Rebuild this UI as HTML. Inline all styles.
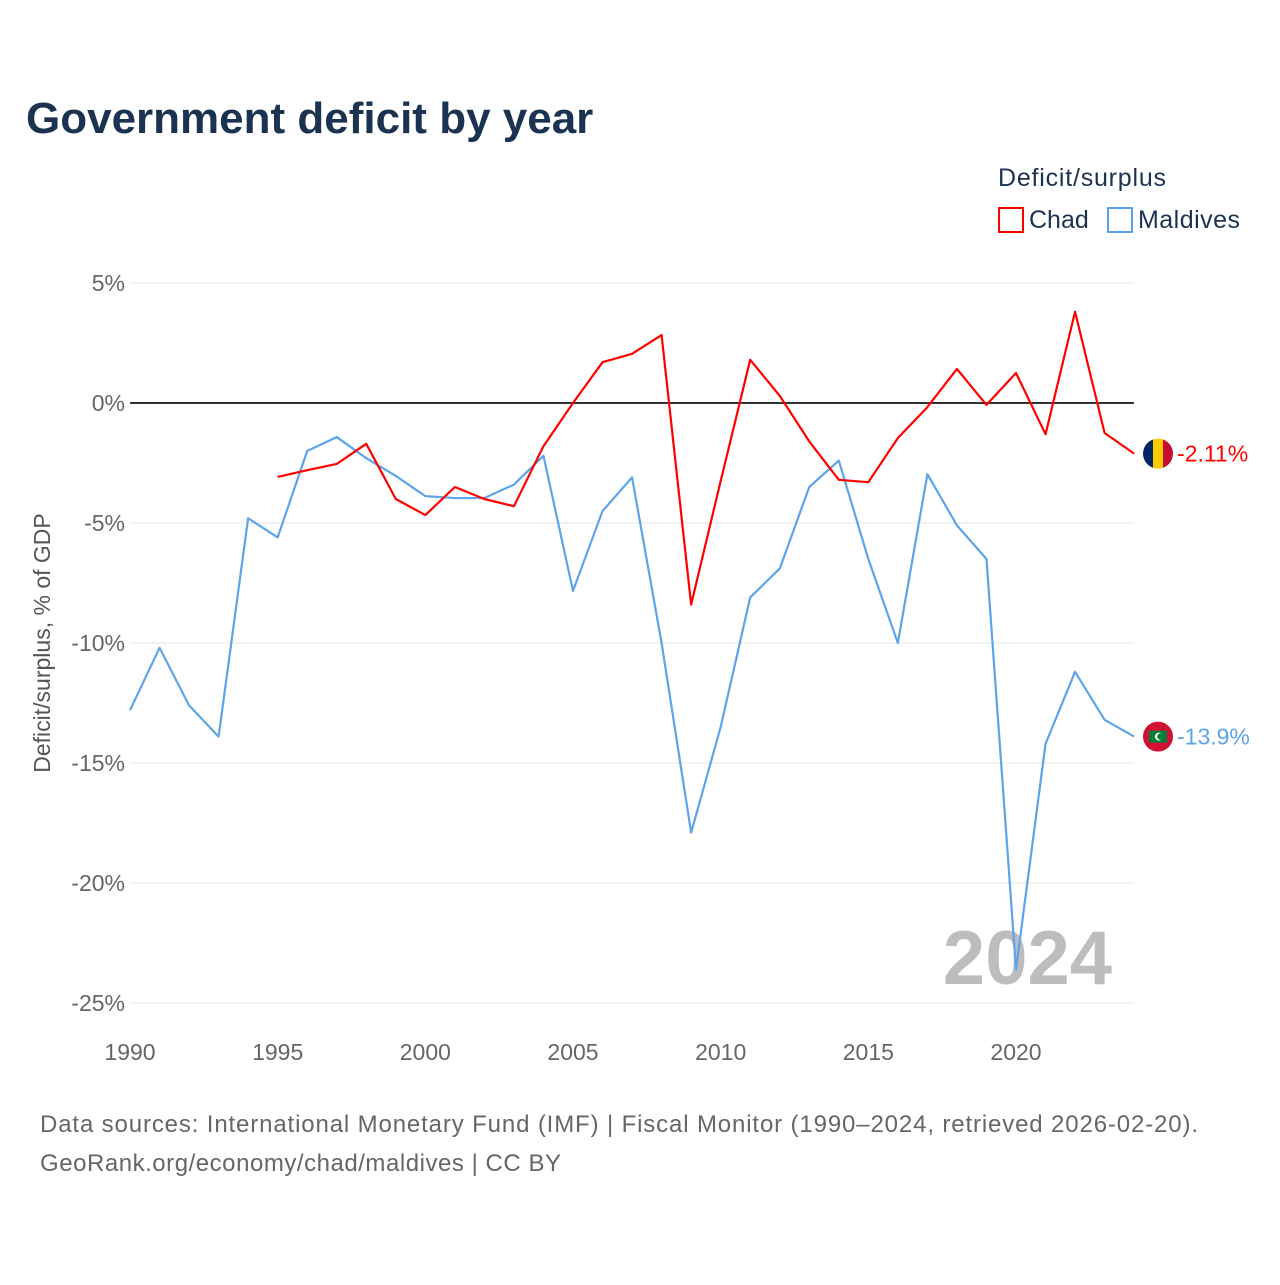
<!DOCTYPE html>
<html><head><meta charset="utf-8"><style>
body{margin:0;background:#fff;font-family:"Liberation Sans",sans-serif;}
</style></head><body>
<svg width="1280" height="1280" xmlns="http://www.w3.org/2000/svg" font-family="Liberation Sans, sans-serif">
<text x="26" y="133" font-size="44" font-weight="bold" fill="#1b3350">Government deficit by year</text>
<text x="998" y="186" font-size="25" fill="#1b3350" textLength="168">Deficit/surplus</text>
<g><rect x="999" y="208" width="24" height="24" fill="none" stroke="#f00" stroke-width="2"/><text x="1029" y="228" font-size="25" fill="#1b3350">Chad</text></g>
<g><rect x="1108" y="208" width="24" height="24" fill="none" stroke="#5da5e8" stroke-width="2"/><text x="1138" y="228" font-size="25" fill="#1b3350" textLength="102">Maldives</text></g>
<g id="grid"></g>
<text x="1112" y="984" font-size="76" font-weight="bold" fill="#bdbdbd" text-anchor="end">2024</text>
<g id="series"></g>
<text transform="translate(50,643) rotate(-90)" font-size="23" fill="#555" text-anchor="middle">Deficit/surplus, % of GDP</text>
<text x="40" y="1132" font-size="24" fill="#666" textLength="1158">Data sources: International Monetary Fund (IMF) | Fiscal Monitor (1990–2024, retrieved 2026-02-20).</text>
<text x="40" y="1171" font-size="24" fill="#666" textLength="521">GeoRank.org/economy/chad/maldives | CC BY</text>
</svg>
<script>
const yTicks=[5,0,-5,-10,-15,-20,-25];
const xTicks=[1990,1995,2000,2005,2010,2015,2020];
const chadYears=[1995,1996,1997,1998,1999,2000,2001,2002,2003,2004,2005,2006,2007,2008,2009,2010,2011,2012,2013,2014,2015,2016,2017,2018,2019,2020,2021,2022,2023,2024];
const chadValues=[-3.08,-2.8,-2.54,-1.7,-4.0,-4.67,-3.5,-4.0,-4.3,-1.8,0,1.7,2.05,2.83,-8.4,-3.25,1.8,0.3,-1.6,-3.2,-3.3,-1.46,-0.17,1.42,-0.08,1.25,-1.3,3.8,-1.25,-2.11];
const maldYears=[1990,1991,1992,1993,1994,1995,1996,1997,1998,1999,2000,2001,2002,2003,2004,2005,2006,2007,2008,2009,2010,2011,2012,2013,2014,2015,2016,2017,2018,2019,2020,2021,2022,2023,2024];
const maldValues=[-12.8,-10.2,-12.6,-13.9,-4.8,-5.6,-2.0,-1.42,-2.3,-3.04,-3.88,-3.96,-3.96,-3.4,-2.2,-7.83,-4.5,-3.1,-10,-17.9,-13.5,-8.1,-6.9,-3.5,-2.4,-6.5,-10,-2.96,-5.1,-6.5,-23.6,-14.2,-11.2,-13.2,-13.9];
const X=y=>130+(y-1990)*(886/30);
const Y=v=>403-v*24;
const NS="http://www.w3.org/2000/svg";
const grid=document.getElementById('grid'),ser=document.getElementById('series');
function mk(tag,at,parent){const e=document.createElementNS(NS,tag);for(const k in at)e.setAttribute(k,at[k]);parent.appendChild(e);return e;}
yTicks.forEach(v=>{
 const l=mk('line',{x1:130,x2:1134,y1:Y(v),y2:Y(v),stroke:v===0?'#333':'#e6e6e6','stroke-width':v===0?2:1},grid);
 
 
 const t=mk('text',{x:125,y:Y(v)+8,'font-size':23,fill:'#666','text-anchor':'end'},grid);t.textContent=v+'%';
 
 
});
xTicks.forEach(y=>{
 const t=mk('text',{x:X(y),y:1060,'font-size':23,fill:'#666','text-anchor':'middle'},grid);t.textContent=y;
 
 
});
function line(ys,vs,c,name){
 const p=mk('polyline',{points:ys.map((y,i)=>X(y)+','+Y(vs[i])).join(' '),fill:'none',stroke:c,'stroke-width':2.2,'stroke-linejoin':'round'},ser);
 
 
}
line(maldYears,maldValues,'#5da5e8','maldives-line');
line(chadYears,chadValues,'#f00','chad-line');
function endLabel(v,c,name,flag){
 const y=Y(v),cx=1158;
 const g=mk('g',{},ser);
 
 
 mk('clipPath',{id:'c'+name},g).appendChild(document.createElementNS(NS,'circle')).setAttribute('cx',cx);
 const cc=g.querySelector('circle');cc.setAttribute('cy',y);cc.setAttribute('r',15);
 const f=mk('g',{'clip-path':'url(#c'+name+')'},g);
 if(flag==='chad'){
  mk('rect',{x:cx-15,y:y-15,width:10,height:30,fill:'#002664'},f);
  mk('rect',{x:cx-5,y:y-15,width:10,height:30,fill:'#fecb00'},f);
  mk('rect',{x:cx+5,y:y-15,width:10,height:30,fill:'#c60c30'},f);
 } else {
  mk('rect',{x:cx-15,y:y-15,width:30,height:30,fill:'#d21034'},f);
  mk('rect',{x:cx-9,y:y-6,width:18,height:12,fill:'#007e3a'},f);
  mk('circle',{cx:cx+1,cy:y,r:4,fill:'#fff'},f);
  mk('circle',{cx:cx+2.5,cy:y,r:3.3,fill:'#007e3a'},f);
 }
 const t=mk('text',{x:1177,y:y+8,'font-size':23,fill:c},ser);t.textContent=v+'%';
 
 
}
endLabel(chadValues[chadValues.length-1],'#f00','chad','chad');
endLabel(maldValues[maldValues.length-1],'#5da5e8','maldives','mv');
</script>
</body></html>
